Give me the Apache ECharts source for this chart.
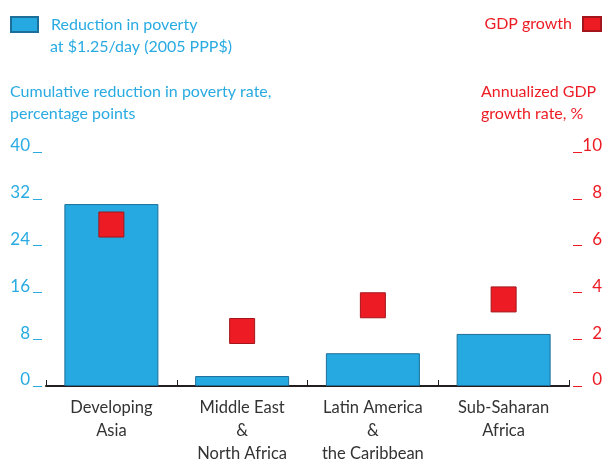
<!DOCTYPE html>
<html>
<head>
<meta charset="utf-8">
<script src="https://cdn.jsdelivr.net/npm/echarts@6/dist/echarts.min.js"></script>
<style>
  html, body { margin: 0; padding: 0; background: #fff; }
  #chart { width: 605px; height: 460px; }
</style>
</head>
<body>
<div id="chart"></div>
<script>
// poverty reduction vs gdp growth, by region
var regions = ['Developing\nAsia', 'Middle East\n&\nNorth Africa', 'Latin America\n&\nthe Caribbean', 'Sub-Saharan\nAfrica'];
var povertyCut = [31.1, 1.7, 5.6, 8.9];     // percentage points
var gdpGrowth = [6.9, 2.35, 3.45, 3.7];     // annualized %
var leftTicks = [0, 40, 8];                 // min, max, step
var rightTicks = [0, 10, 2];

var blue = '#29abe2';
var red = '#ed1c24';
var font = 'Lato';

var option = {
    backgroundColor: '#fff',
    textStyle: { fontFamily: font },
    title: [{
        text: 'Cumulative reduction in poverty rate,\npercentage points',
        left: 5,
        top: 76,
        textStyle: { color: blue, fontSize: 16, fontWeight: 'normal', lineHeight: 22, fontFamily: font }
    }, {
        text: 'Annualized GDP\ngrowth rate, %',
        left: 476,
        top: 76,
        textStyle: { color: red, fontSize: 16, fontWeight: 'normal', lineHeight: 22, fontFamily: font }
    }],
    legend: [{
        data: ['Reduction in poverty'],
        icon: 'rect',
        left: 5,
        top: 11,
        itemWidth: 27,
        itemHeight: 15,
        selectedMode: false,
        textStyle: { color: blue, fontSize: 16, padding: [0, 0, 0, 8], fontFamily: font }
    }, {
        data: ['GDP growth'],
        icon: 'rect',
        right: -2,
        top: 11,
        align: 'right',
        itemWidth: 18,
        itemHeight: 14,
        selectedMode: false,
        textStyle: { color: red, fontSize: 16, padding: [0, 6, 0, 0], fontFamily: font }
    }],
    // second line of the blue legend entry
    graphic: [{
        type: 'text',
        left: 50,
        top: 39,
        style: { text: 'at $1.25/day (2005 PPP$)', fill: blue, fontSize: 16, fontFamily: font }
    }],
    grid: { left: 46, right: 36, top: 152, bottom: 74, outerBoundsMode: 'none', containLabel: false },
    xAxis: {
        type: 'category',
        data: regions,
        axisLine: { lineStyle: { color: '#231f20', width: 2 } },
        axisTick: { show: true, inside: true, length: 6, lineStyle: { color: '#231f20', width: 1 } },
        axisLabel: { interval: 0, hideOverlap: false, color: '#333', fontSize: 16.5, lineHeight: 23, margin: 10, fontFamily: font }
    },
    yAxis: [{
        type: 'value',
        position: 'left',
        min: leftTicks[0], max: leftTicks[1], interval: leftTicks[2],
        offset: 4,
        axisLine: { show: false },
        axisTick: { show: true, length: 9, lineStyle: { color: blue, width: 1 } },
        splitLine: { show: false },
        axisLabel: { color: blue, fontSize: 17, margin: 12, verticalAlign: 'bottom', lineHeight: 12, fontFamily: font }
    }, {
        type: 'value',
        position: 'right',
        min: rightTicks[0], max: rightTicks[1], interval: rightTicks[2],
        offset: 4,
        axisLine: { show: false },
        axisTick: { show: true, length: 9, lineStyle: { color: red, width: 1 } },
        splitLine: { show: false },
        axisLabel: { color: red, fontSize: 17, margin: 29, align: 'right', verticalAlign: 'bottom', lineHeight: 12, fontFamily: font }
    }],
    series: [{
        name: 'Reduction in poverty',
        type: 'bar',
        yAxisIndex: 0,
        barWidth: 94,
        itemStyle: { color: '#25a9e0', borderColor: '#1c6f99', borderWidth: 1 },
        data: povertyCut
    }, {
        name: 'GDP growth',
        type: 'scatter',
        yAxisIndex: 1,
        symbol: 'rect',
        symbolSize: 25,
        itemStyle: { color: red, borderColor: '#a3171c', borderWidth: 1, opacity: 1 },
        data: gdpGrowth,
        z: 5
    }]
};

var chart = echarts.init(document.getElementById('chart'));
chart.setOption(option);
window.onresize = function() {
    chart.resize();
};
</script>
</body>
</html>
